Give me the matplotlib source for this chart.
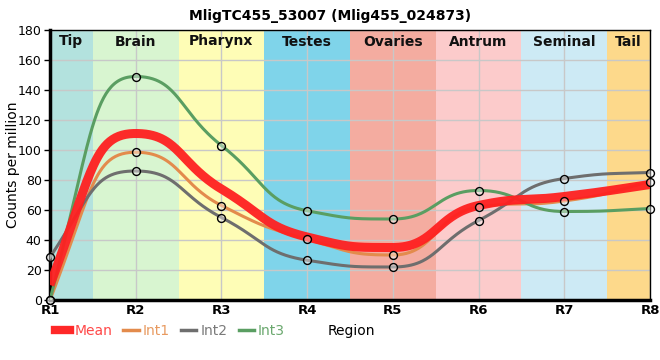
import numpy as np
import matplotlib
matplotlib.use('Agg')
import matplotlib.pyplot as plt
from matplotlib.lines import Line2D

regions = ['R1', 'R2', 'R3', 'R4', 'R5', 'R6', 'R7', 'R8']
tissues = ['Tip', 'Brain', 'Pharynx', 'Testes', 'Ovaries', 'Antrum', 'Seminal', 'Tail']
tissue_colors = ['#b3e2de', '#d8f5d0', '#fefdb6', '#7fd4ea', '#f4aca0', '#fccbcb', '#cdeaf5', '#fdd98b']

mean = [10, 111, 74, 42, 35, 63, 69, 77]
int1 = [0, 98.5, 63, 40.5, 30, 62, 66, 79]
int2 = [28.5, 86, 55, 26.5, 22, 53, 81, 85]
int3 = [0, 149, 103, 59.5, 54, 73, 59, 61]


def smooth_curve(xs, ys, k=0.5, n=60):
    # monotone tangents, bezier handles stretched to k*h
    xs = np.asarray(xs, float)
    ys = np.asarray(ys, float)
    h = np.diff(xs)
    s = np.diff(ys) / h
    t = np.zeros(len(xs))
    for i in range(1, len(xs) - 1):
        p = (s[i - 1] * h[i] + s[i] * h[i - 1]) / (h[i - 1] + h[i])
        t[i] = (np.sign(s[i - 1]) + np.sign(s[i])) * min(abs(s[i - 1]), abs(s[i]), 0.5 * abs(p))
    t[0] = (3 * s[0] - t[1]) / 2
    t[-1] = (3 * s[-1] - t[-2]) / 2
    out_x, out_y = [], []
    u = np.linspace(0, 1, n)
    b0, b1, b2, b3 = (1-u)**3, 3*(1-u)**2*u, 3*(1-u)*u**2, u**3
    for i in range(len(xs) - 1):
        x0, x1 = xs[i], xs[i + 1]
        dx = k * h[i]
        px = [x0, x0 + dx, x1 - dx, x1]
        py = [ys[i], ys[i] + dx * t[i], ys[i + 1] - dx * t[i + 1], ys[i + 1]]
        out_x.extend(b0*px[0] + b1*px[1] + b2*px[2] + b3*px[3])
        out_y.extend(b0*py[0] + b1*py[1] + b2*py[2] + b3*py[3])
    return np.array(out_x), np.array(out_y)


x = np.arange(len(regions))

fig = plt.figure(figsize=(6.6, 3.6), dpi=100)
ax = fig.add_axes([50/660, 60/360, 600/660, 270/360])

for i, (name, col) in enumerate(zip(tissues, tissue_colors)):
    lo = max(i - 0.5, 0)
    hi = min(i + 0.5, len(regions) - 1)
    ax.axvspan(lo, hi, color=col, lw=0, zorder=0)
    ax.text((lo + hi) / 2, 177, name, ha='center', va='top', fontsize=10,
            fontweight='bold', color='#111111', zorder=1)

ax.set_xlim(0, len(regions) - 1)
ax.set_ylim(0, 180)
ax.set_xticks(x)
ax.set_xticklabels(regions, fontweight='bold', fontsize=9.5)
ax.set_yticks(range(0, 181, 20))
ax.tick_params(axis='y', labelsize=9, length=4, width=1, pad=2)
ax.tick_params(axis='x', length=0, pad=3)
ax.grid(True, color='#c8c8c8', lw=1, zorder=1)
ax.set_axisbelow(True)
for sp in ['left', 'bottom']:
    ax.spines[sp].set_linewidth(2.5)
for sp in ['top', 'right']:
    ax.spines[sp].set_linewidth(1)

mx, my = smooth_curve(x, mean)
ax.plot(mx, my, color='#ff2020', lw=6.5, alpha=0.95, zorder=5, solid_capstyle='butt')
series = [(int1, '#e38b4c'), (int2, '#6e6e6e'), (int3, '#5a9e62')]
for vals, col in series:
    sx, sy = smooth_curve(x, vals)
    ax.plot(sx, sy, color=col, lw=2.2, zorder=4)
for vals, col in series:
    ax.scatter(x, vals, s=32, facecolor=(1, 1, 1, 0.4), edgecolor='black', lw=1, zorder=6, clip_on=False)

ax.set_ylabel('Counts per million', fontsize=10)
ax.yaxis.set_label_coords(-0.05, 0.5)
fig.text(0.5, 0.975, 'MligTC455_53007 (Mlig455_024873)', ha='center', va='top',
         fontsize=10, fontweight='bold')
fig.text(351/660, 1 - 331/360, 'Region', ha='center', va='center', fontsize=10)

handles = [Line2D([], [], color='#ff2828', lw=6),
           Line2D([], [], color='#e38b4c', lw=2.5),
           Line2D([], [], color='#6e6e6e', lw=2.5),
           Line2D([], [], color='#5a9e62', lw=2.5)]
text_colors = ['#ff4848', '#e89a60', '#7a7a7a', '#6aa86e']
labels = ['Mean', 'Int1', 'Int2', 'Int3']
leg = fig.legend(handles, labels, loc='center left', bbox_to_anchor=(55/660, 1 - 331/360),
                 ncol=4, frameon=False, fontsize=10, handlelength=1.1,
                 handletextpad=0.3, columnspacing=0.8, borderpad=0, borderaxespad=0)
for txt, c in zip(leg.get_texts(), text_colors):
    txt.set_color(c)

fig.savefig('out.png', dpi=100)
